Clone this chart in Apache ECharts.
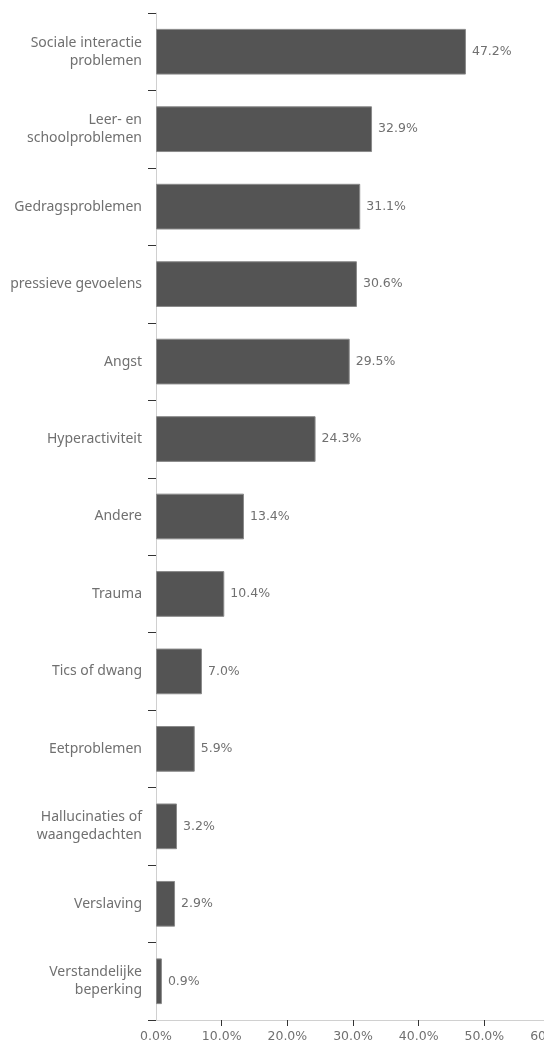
<!DOCTYPE html>
<html><head><meta charset="utf-8">
<script src="https://cdn.jsdelivr.net/npm/echarts@6/dist/echarts.min.js"></script>
<style>html,body{margin:0;padding:0;background:#fff}#c{width:544px;height:1045px}</style>
</head><body><div id="c"></div>
<script>
const categories = ["Sociale interactie\nproblemen","Leer- en\nschoolproblemen","Gedragsproblemen","pressieve gevoelens","Angst","Hyperactiviteit","Andere","Trauma","Tics of dwang","Eetproblemen","Hallucinaties of\nwaangedachten","Verslaving","Verstandelijke\nbeperking"];
const values = [47.2,32.9,31.1,30.6,29.5,24.3,13.4,10.4,7.0,5.9,3.2,2.9,0.9];
const xTicks = [0,10,20,30,40,50,60];
const font = "Noto Sans";
const numFont = "DejaVu Sans";
const chart = echarts.init(document.getElementById('c'));
chart.setOption({
  animation:false,
  grid:{left:156, top:13, width:394, bottom:25, containLabel:false, outerBoundsMode:'none'},
  xAxis:{type:'value', min:xTicks[0], max:xTicks[xTicks.length-1], interval:10,
    axisLine:{show:true, lineStyle:{color:'#d0d0d0'}},
    axisTick:{show:true, length:6, lineStyle:{color:'#333'}, customValues:xTicks.slice(1)},
    splitLine:{show:false},
    axisLabel:{color:'#707070', fontFamily:numFont, fontSize:12.5, margin:10, customValues:xTicks, formatter:v=>v.toFixed(1)+'%'}},
  yAxis:{type:'category', data:categories, inverse:true,
    axisLine:{show:true, lineStyle:{color:'#d0d0d0'}},
    axisTick:{show:true, length:8, lineStyle:{color:'#333'}},
    axisLabel:{color:'#707070', fontFamily:font, fontSize:14, margin:14, lineHeight:18}},
  series:[{type:'bar', data:values, barWidth:'59%',
    itemStyle:{color:'#545454', borderColor:'#8a8a8a', borderWidth:1},
    label:{show:true, position:'right', distance:6, color:'#707070', fontFamily:numFont, fontSize:12.5, formatter:p=>p.value.toFixed(1)+'%'}}]
});
</script></body></html>
